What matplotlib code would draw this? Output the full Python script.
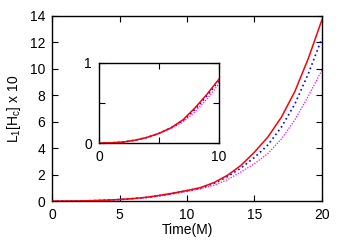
import matplotlib
matplotlib.use("Agg")
import matplotlib.pyplot as plt
import numpy as np

plt.rcParams['font.family'] = ['Liberation Sans', 'DejaVu Sans']
plt.rcParams['mathtext.fontset'] = 'custom'
plt.rcParams['mathtext.rm'] = 'Liberation Sans'
plt.rcParams['mathtext.it'] = 'Liberation Sans'

# values
time = [0, 1, 2, 3, 4, 5, 6, 7, 8, 9, 10, 11, 12, 13, 14, 15, 16, 17, 18, 19, 20]
red = [0, 0.003, 0.012, 0.035, 0.07, 0.12, 0.19, 0.29, 0.44, 0.61, 0.80,
       1.02, 1.4, 1.95, 2.7, 3.7, 4.85, 6.35, 8.3, 10.8, 13.7]
blue = [0, 0.003, 0.012, 0.035, 0.07, 0.12, 0.19, 0.28, 0.42, 0.59, 0.78,
        0.99, 1.35, 1.85, 2.5, 3.3, 4.25, 5.6, 7.35, 9.65, 12.3]
magenta = [0, 0.003, 0.012, 0.035, 0.07, 0.12, 0.185, 0.26, 0.39, 0.55, 0.74,
           0.93, 1.2, 1.62, 2.2, 2.83, 3.6, 4.7, 6.15, 7.95, 9.9]

xticks = [0, 5, 10, 15, 20]
yticks = [0, 2, 4, 6, 8, 10, 12, 14]


def draw(ax, n=None):
    t = np.array(time[:n])
    ax.plot(t, red[:n], color='red', lw=1.1, zorder=3)
    ax.plot(t, blue[:n], color='blue', lw=1.2, ls=(0, (1, 1.8)), zorder=2)
    ax.plot(t, magenta[:n], color='magenta', lw=0.9, ls=(0, (1, 1.2)), zorder=1)


def style(ax):
    ax.tick_params(direction='in', top=True, right=True, length=4, width=0.8,
                   labelsize=10, pad=5)
    for s in ax.spines.values():
        s.set_linewidth(1.0)


fig = plt.figure(figsize=(3.45, 2.42), dpi=100)
ax = fig.add_axes([0.151, 0.169, 0.782, 0.765])
draw(ax)
ax.set_xlim(0, 20)
ax.set_ylim(0, 14)
ax.set_xticks(xticks)
ax.set_yticks(yticks)
style(ax)
ax.set_xlabel("Time(M)", fontsize=10, labelpad=1)
ax.set_ylabel("L$_1$[H$_c$] x 10", fontsize=10, labelpad=5)

ins = fig.add_axes([0.287, 0.409, 0.348, 0.331])
draw(ins, 11)
ins.set_xlim(0, 10)
ins.set_ylim(0, 1)
ins.set_xticks([0, 5, 10])
ins.set_xticklabels(['0', '', '10'])
ins.set_yticks([0, 0.5, 1])
ins.set_yticklabels(['0', '', '1'])
style(ins)

fig.savefig("out.png", dpi=100)
